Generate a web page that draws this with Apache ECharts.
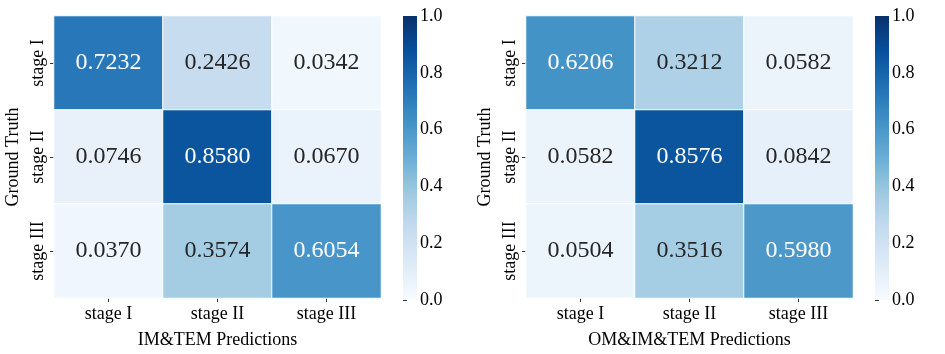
<!DOCTYPE html>
<html>
<head>
<meta charset="utf-8">
<script src="https://cdn.jsdelivr.net/npm/echarts@6/dist/echarts.min.js"></script>
<style>
  html, body { margin: 0; padding: 0; background: #fff; }
  #chart { width: 945px; height: 354px; }
</style>
</head>
<body>
<div id="chart"></div>
<script>
// 类别
const stages = ['stage I', 'stage II', 'stage III'];
// 左图：IM&TEM 混淆矩阵（按行：真实标签）
const leftMatrix = [
    [0.7232, 0.2426, 0.0342],
    [0.0746, 0.8580, 0.0670],
    [0.0370, 0.3574, 0.6054]
];
// 右图：OM&IM&TEM 混淆矩阵
const rightMatrix = [
    [0.6206, 0.3212, 0.0582],
    [0.0582, 0.8576, 0.0842],
    [0.0504, 0.3516, 0.5980]
];
const colorbarTicks = [0.0, 0.2, 0.4, 0.6, 0.8, 1.0];
const leftTitle = 'IM&TEM Predictions';
const rightTitle = 'OM&IM&TEM Predictions';
const yTitle = 'Ground Truth';

// matplotlib Blues
const blues = ['#f7fbff', '#deebf7', '#c6dbef', '#9ecae1', '#6baed6', '#4292c6', '#2171b5', '#08519c', '#08306b'];
const FONT = 'Liberation Serif';

function toData(m) {
    let out = [];
    m.forEach((row, r) => {
        row.forEach((v, c) => {
            out.push({
                value: [c, r, v],
                label: { color: v > 0.5 ? '#ffffff' : '#262626' }
            });
        });
    });
    return out;
}

function heatAxes(gridIndex, xName) {
    return {
        x: {
            type: 'category', gridIndex: gridIndex, data: stages,
            name: xName, nameLocation: 'middle', nameGap: 33,
            nameTextStyle: { fontFamily: FONT, fontSize: 18, color: '#000' },
            axisLine: { show: false },
            axisTick: { show: true, alignWithLabel: true, length: 4, lineStyle: { color: '#333' } },
            axisLabel: { fontFamily: FONT, fontSize: 18, color: '#000', margin: 7 },
            splitLine: { show: false }, splitArea: { show: false }
        },
        y: {
            type: 'category', gridIndex: gridIndex, data: stages, inverse: true,
            name: yTitle, nameLocation: 'middle', nameGap: 32,
            nameTextStyle: { fontFamily: FONT, fontSize: 18, color: '#000' },
            axisLine: { show: false },
            axisTick: { show: true, alignWithLabel: true, length: 4, lineStyle: { color: '#333' } },
            axisLabel: { fontFamily: FONT, fontSize: 18, color: '#000', rotate: 90, margin: 7 },
            splitLine: { show: false }, splitArea: { show: false }
        }
    };
}

function cbarAxes(gridIndex) {
    return {
        x: { type: 'value', gridIndex: gridIndex, min: 0, max: 1, show: false },
        y: {
            type: 'value', gridIndex: gridIndex,
            min: colorbarTicks[0], max: colorbarTicks[colorbarTicks.length - 1], interval: 0.2,
            position: 'right',
            axisLine: { show: false },
            axisTick: { show: true, length: 4, lineStyle: { color: '#333' } },
            axisLabel: { fontFamily: FONT, fontSize: 18, color: '#000', margin: 3,
                formatter: v => v.toFixed(1) },
            splitLine: { show: false }
        }
    };
}

// 色条——用坐标系算出位置，填充 Blues 渐变
function cbarSeries(idx) {
    return {
        type: 'custom', xAxisIndex: idx, yAxisIndex: idx, silent: true,
        data: [[0, 0, 1, 1]],
        renderItem: (params, api) => {
            const p0 = api.coord([api.value(0), api.value(1)]);
            const p1 = api.coord([api.value(2), api.value(3)]);
            return {
                type: 'rect',
                shape: { x: p0[0], y: p1[1], width: p1[0] - p0[0], height: p0[1] - p1[1] },
                style: {
                    fill: new echarts.graphic.LinearGradient(0, 1, 0, 0,
                        blues.map((c, i) => ({ offset: i / (blues.length - 1), color: c })))
                }
            };
        }
    };
}

const a0 = heatAxes(0, leftTitle), a1 = heatAxes(1, rightTitle);
const c0 = cbarAxes(2), c1 = cbarAxes(3);

const myChart = echarts.init(document.getElementById('chart'));
myChart.setOption({
    backgroundColor: '#fff',
    animation: false,
    grid: [
        { left: 54, top: 16, width: 327, height: 284 },
        { left: 526, top: 16, width: 327, height: 284 },
        { left: 403, top: 16, width: 14, height: 284 },
        { left: 875, top: 16, width: 14, height: 284 }
    ],
    xAxis: [a0.x, a1.x, c0.x, c1.x],
    yAxis: [a0.y, a1.y, c0.y, c1.y],
    visualMap: [
        { type: 'continuous', show: false, seriesIndex: 0, min: 0, max: 1, inRange: { color: blues } },
        { type: 'continuous', show: false, seriesIndex: 1, min: 0, max: 1, inRange: { color: blues } }
    ],
    series: [
        {
            type: 'heatmap', xAxisIndex: 0, yAxisIndex: 0,
            data: toData(leftMatrix),
            itemStyle: { borderColor: '#fff', borderWidth: 1 },
            label: { show: true, fontFamily: FONT, fontSize: 24, formatter: p => p.value[2].toFixed(4) }
        },
        {
            type: 'heatmap', xAxisIndex: 1, yAxisIndex: 1,
            data: toData(rightMatrix),
            itemStyle: { borderColor: '#fff', borderWidth: 1 },
            label: { show: true, fontFamily: FONT, fontSize: 24, formatter: p => p.value[2].toFixed(4) }
        },
        cbarSeries(2),
        cbarSeries(3)
    ]
});
window.addEventListener('resize', () => { myChart.resize(); });
</script>
</body>
</html>
